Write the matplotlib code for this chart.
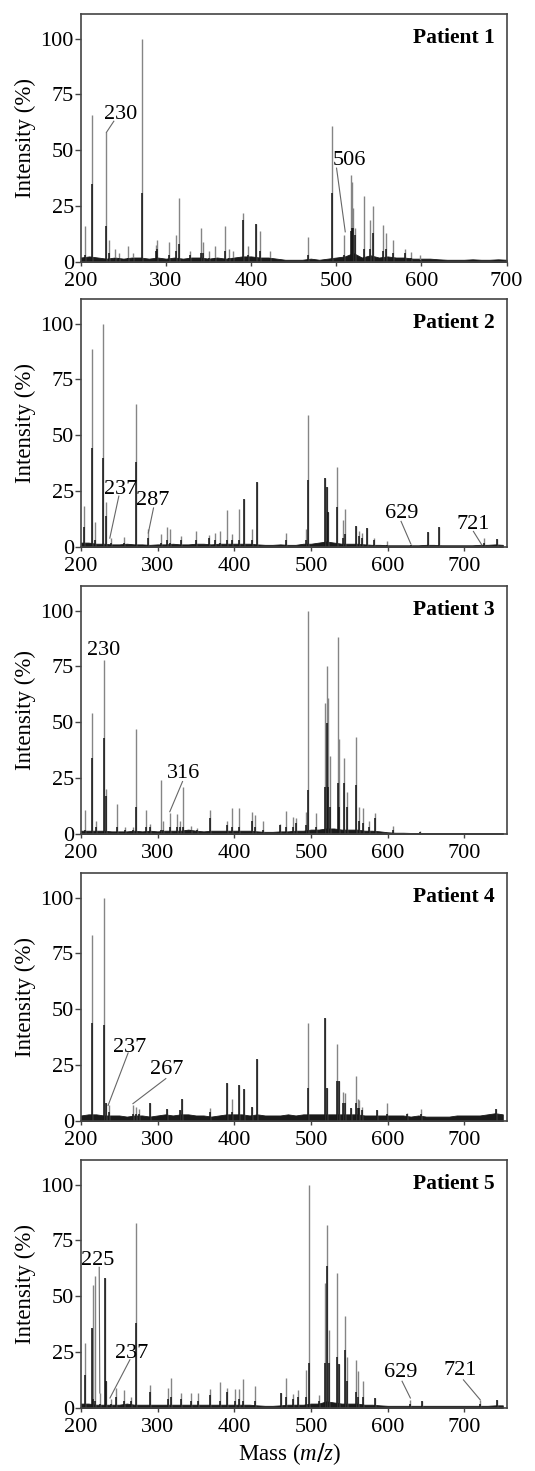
import numpy as np
import matplotlib
matplotlib.use("Agg")
import matplotlib.pyplot as plt

plt.rcParams['font.family'] = ['Liberation Serif', 'DejaVu Serif']
plt.rcParams['mathtext.fontset'] = 'custom'
plt.rcParams['mathtext.it'] = 'Liberation Serif:italic'

# ---- peak lists: m/z, full height (grey), black core height ----
p1_mz   = [204.7, 213.7, 230.1, 233, 240, 245, 256, 261, 272.4, 288, 290, 304, 312, 315, 328,
           341, 344, 350, 357, 369, 374, 379, 390.7, 396.5, 406, 411, 422, 467, 495, 508.5,
           516.7, 518, 520, 522, 532, 540, 542.6, 555, 558, 566, 580.5, 587.6, 598]
p1_int  = [16, 66, 58, 10, 6, 4, 7, 4, 100, 7.5, 10, 9, 12, 28.5, 5,
           15, 9, 5, 7, 16, 6, 5, 22, 7, 17, 14, 5, 11, 61, 12,
           39, 36, 24, 15, 29.6, 19, 25, 16.5, 13, 10, 6, 4.5, 3]
p1_core = [3, 35, 16, 4, 2, 2, 2, 2, 31, 5, 6, 3, 5, 8, 3,
           4, 4, 2, 2, 5, 2, 2, 19, 3, 17, 5, 2, 3, 31, 3,
           14, 15, 15, 12, 6, 6, 13, 5, 6, 4, 4, 2, 1]

p2_mz   = [204, 214.3, 218, 229.6, 232.6, 239, 256, 272, 288, 304, 312, 316, 331, 350, 367,
           375, 381, 390, 397, 406, 413, 423.5, 429, 468, 494, 496.5, 517.8, 520.4, 522, 534,
           542, 544, 558.7, 563, 567, 573.5, 582.6, 598.7, 630, 652, 667, 725, 742]
p2_int  = [18.6, 88.5, 11, 100, 20, 4, 4.5, 64, 8, 6, 9, 8, 5, 7, 5.5,
           6.5, 7, 16.5, 6, 17, 21.5, 8, 29, 6.5, 8, 59, 30.7, 27, 15.6, 36,
           12, 17, 9.6, 7, 6.3, 8.5, 4, 2.5, 1.5, 6.6, 9, 4, 3.6]
p2_core = [9, 44.5, 3, 40, 14, 2, 2, 38, 4, 2, 3, 2, 3, 3, 4,
           3, 2, 3, 3, 3, 21.5, 3, 29, 3, 3, 30, 30.7, 27, 15.6, 18,
           4, 6, 9.6, 5, 4, 8.5, 3, 1, 1, 6.6, 9, 2, 3.6]

p3_mz   = [205, 214.8, 220, 230.4, 232.6, 247, 257, 268, 272.6, 285.6, 290, 304, 306.5, 316, 325,
           329, 333, 343, 351, 369, 391, 397.4, 406.5, 422.6, 427, 438, 460, 468, 476, 481,
           494, 496.5, 506.5, 518, 520.4, 522.6, 524.8, 534.8, 537, 543.5, 546.5, 558.7, 562, 568.3, 575,
           583.5, 606.5, 642]
p3_int  = [10.8, 54, 6, 78, 20, 13.5, 3, 3, 47, 10.8, 4.5, 24, 6, 9.5, 9,
           6, 21, 3.6, 2.5, 10.8, 6, 11.5, 11.5, 9.7, 8.5, 6, 4.5, 10.5, 7.8, 7,
           10, 100, 9.3, 58.6, 75, 61, 35, 88, 42.5, 34, 19, 43.4, 12, 11.5, 6,
           9.3, 3.6, 1.5]
p3_core = [2, 34, 3, 43, 17, 3, 2, 2, 12, 3, 3, 2, 2, 3, 3,
           3, 3, 2, 2, 7, 4, 3, 3, 6, 3, 2, 4, 3, 3, 5,
           4, 19.7, 3, 21, 49.6, 21, 12, 23, 12, 23, 12, 22, 6, 5, 3,
           7, 2, 1]

p4_mz   = [214.8, 230.4, 233.5, 237, 268, 272.6, 276, 290, 312, 329, 331.3, 369, 391, 397.4, 406,
           413, 423.5, 429, 496.5, 518.7, 520.4, 534.4, 536, 541.3, 544, 551.7, 558.7, 561, 563, 567,
           585.7, 598.7, 624.8, 644, 741]
p4_int  = [83.3, 100, 8, 7, 7.4, 6.3, 5.6, 8.3, 5.3, 5.1, 10, 6, 17, 9.8, 16,
           14.3, 6.3, 27.7, 44, 45.9, 14.6, 34.6, 18, 13, 12.6, 6, 20, 10, 9.3, 6.3,
           5, 8.3, 3.8, 5.6, 5.6]
p4_core = [44, 43, 8, 4, 3, 3, 3, 8.3, 5.3, 5.1, 10, 4, 17, 4, 16,
           14.3, 6.3, 27.7, 15, 45.9, 14.6, 18, 18, 8, 8, 6, 8, 6, 6, 5,
           5, 3, 3, 3, 5.6]

p5_mz   = [205, 214, 216, 218, 224.8, 231, 232.6, 240, 246.5, 256.5, 266, 272.6, 290, 314, 317,
           331, 344, 353, 369, 381, 391, 401, 406.5, 412, 427, 461, 468, 477, 482.6, 494,
           497, 510, 518, 521, 524, 534.4, 536.5, 544, 546.5, 558.7, 561, 568.3, 583.5, 629, 644.4,
           720.5, 742]
p5_int  = [29, 35.7, 55, 59, 6.7, 58, 12, 4, 9, 8, 5, 83, 10.4, 9, 13.4,
           6.7, 6.7, 6.7, 8.5, 11.5, 9, 8.5, 8.5, 13, 10, 6.7, 13.4, 6.4, 8.2, 17,
           100, 6, 55.8, 82, 35, 60.3, 19.8, 41, 23, 21.6, 16.4, 12, 4.5, 3.7, 3,
           3.4, 3.4]
p5_core = [15, 35.7, 4, 3, 2, 58, 12, 2, 5, 3, 3, 38, 7, 4, 5,
           4, 3, 3, 6, 3, 7, 3, 4, 3, 3, 6.7, 5, 4, 5, 5,
           20, 3, 20, 63.5, 20, 23, 19.8, 26, 12, 7, 5, 5, 4.5, 2, 3,
           2, 3.4]

# ---- baseline noise level read every 10 m/z ----
p1_floor = [2, 2.5, 2, 1.5, 2, 1.5, 2, 2, 1.5, 2,
            1.5, 2, 1.5, 2, 2, 1.5, 2, 1.5, 2, 2.5,
            2.5, 2, 2, 1.5, 1, 1, 1, 1.5, 1, 1.5,
            2, 2.5, 4, 2, 3, 2, 2.5, 2, 2, 1.5,
            1.5, 1.5, 1.2, 1, 1, 1, 1.2, 1, 1, 1.2, 1]
p2_floor = [2, 2, 1.5, 1.5, 1.2, 1.2, 1.5, 1.2, 1.2, 1,
            1.2, 1.2, 1.5, 1.2, 1.2, 1.5, 1.5, 1.2, 1.5, 1.5,
            1.5, 1.5, 1.5, 1.2, 1, 1, 1.2, 1, 1, 1.5,
            1.5, 2, 2.5, 2, 1.5, 1.5, 1.5, 1.2, 1, 1,
            0.8, 0.8, 0.8, 0.8, 0.8, 1, 1, 0.8, 0.8, 0.8,
            0.8, 0.8, 1, 1, 1.2, 1]
p3_floor = [1.5, 1.5, 1.5, 1.5, 1.2, 1.2, 1.2, 1.5, 1.2, 1.5,
            1.2, 1.5, 1.5, 1.5, 2, 1.5, 1.2, 1.5, 1.5, 1.5,
            1.5, 1.5, 1.5, 1.2, 1, 1, 1.2, 1.2, 1.5, 1.5,
            2, 2, 2.5, 2.5, 2, 2, 2, 1.5, 1.5, 1.2,
            0.8, 0.6, 0.6, 0.5, 0.5, 0.5, 0.5, 0.5, 0.5, 0.5,
            0.5, 0.5, 0.5, 0.5, 0.5, 0.5]
p4_floor = [2.5, 3, 3, 2.5, 2.5, 2.5, 2, 2.5, 2.5, 2,
            2.5, 3, 2.5, 3, 3, 2.5, 2.5, 2, 2.5, 3,
            3, 3, 2.5, 3, 2.5, 2.5, 2.5, 3, 2.5, 3,
            3, 3, 3, 3, 3, 3, 3, 2.5, 2.5, 2.5,
            2.5, 2.5, 2.5, 2, 2.5, 2, 2, 2, 2, 2.5,
            2.5, 2.5, 2.5, 3, 3.5, 3]
p5_floor = [2, 2, 1.5, 1.5, 1.5, 1.5, 2, 1.5, 1.5, 1.5,
            1.5, 1.5, 1.5, 1.5, 1.5, 1.5, 1.5, 1.5, 1.5, 1.5,
            1.5, 1.5, 1.5, 1.2, 1, 1, 1.2, 1.5, 1.5, 1.5,
            2, 2, 3, 2.5, 2, 2, 2, 1.5, 1.5, 1.2,
            1, 1, 1, 1, 1, 1, 1, 1, 1, 1,
            1, 1, 1, 1, 1.2, 1.2]

# ---- annotations: label, text position (m/z, %), line start, line end ----
p1_notes = [("230", 247, 66, (238.8, 63), (230.1, 58)),
            ("506", 515, 45.4, (500.3, 42), (510.5, 13.5))]
p2_notes = [("237", 251.7, 25.8, (249.6, 22.8), (237.8, 4)),
            ("287", 294, 21, (294.8, 17.5), (288, 6.3)),
            ("629", 618, 14.8, (617.4, 11.5), (630, 1.5)),
            ("721", 711, 10.3, (711.7, 7), (722.6, 1))]
p3_notes = [("230", 230.4, 82, None, None),
            ("316", 333.5, 27, (332.6, 23.5), (316, 10))]
p4_notes = [("237", 263, 33, (261.7, 30.5), (235.6, 7)),
            ("267", 312.6, 23, (310.8, 19), (268, 7.8))]
p5_notes = [("225", 222.6, 66, (224, 63), (224.8, 6.7)),
            ("237", 266, 24.5, (264, 21.6), (238, 4.5)),
            ("629", 617, 16, (618.7, 12), (629.5, 4.5)),
            ("721", 694, 16.7, (698.7, 12.6), (720.5, 3.7))]

panels = [
    ("Patient 1", p1_mz, p1_int, p1_core, p1_floor, p1_notes, 700),
    ("Patient 2", p2_mz, p2_int, p2_core, p2_floor, p2_notes, 755),
    ("Patient 3", p3_mz, p3_int, p3_core, p3_floor, p3_notes, 755),
    ("Patient 4", p4_mz, p4_int, p4_core, p4_floor, p4_notes, 755),
    ("Patient 5", p5_mz, p5_int, p5_core, p5_floor, p5_notes, 755),
]

fig = plt.figure(figsize=(5.35, 14.71), dpi=100)
bottoms = [0.8219, 0.6281, 0.4330, 0.2379, 0.0428]

for (name, mz, hi, core, floor, notes, xmax), b in zip(panels, bottoms):
    ax = fig.add_axes([0.151, b, 0.796, 0.1686])
    fx = np.arange(200, 200 + 10 * len(floor), 10)
    ax.fill_between(fx, 0, floor, color='#1a1a1a', lw=0.6, edgecolor='#1a1a1a')
    ax.vlines(mz, 0, hi, color='#858585', lw=1.0)
    ax.vlines(mz, 0, core, color='#111111', lw=1.1)
    for txt, tx, ty, p0, p1 in notes:
        ax.text(tx, ty, txt, ha='center', va='center', fontsize=16)
        if p0 is not None:
            ax.plot([p0[0], p1[0]], [p0[1], p1[1]], color='#666666', lw=0.8)
    ax.text(0.972, 0.903, name, transform=ax.transAxes, ha='right', va='center',
            fontsize=15.5, fontweight='bold')
    ax.set_xlim(200, xmax)
    ax.set_ylim(0, 111)
    ax.set_yticks([0, 25, 50, 75, 100])
    ax.set_xticks([200, 300, 400, 500, 600, 700])
    ax.tick_params(axis='y', labelsize=16, length=4, width=1, color='#444444', pad=1)
    ax.tick_params(axis='x', labelsize=16, length=3, width=1, color='#444444', pad=4)
    for s in ax.spines.values():
        s.set_color('#444444')
        s.set_linewidth(1.2)
    ax.set_ylabel('Intensity (%)', fontsize=16.5, labelpad=3)

fig.text(0.542, 0.003, r'Mass ($m/z$)', ha='center', va='bottom', fontsize=16.5)
fig.savefig('out.png', dpi=100)
